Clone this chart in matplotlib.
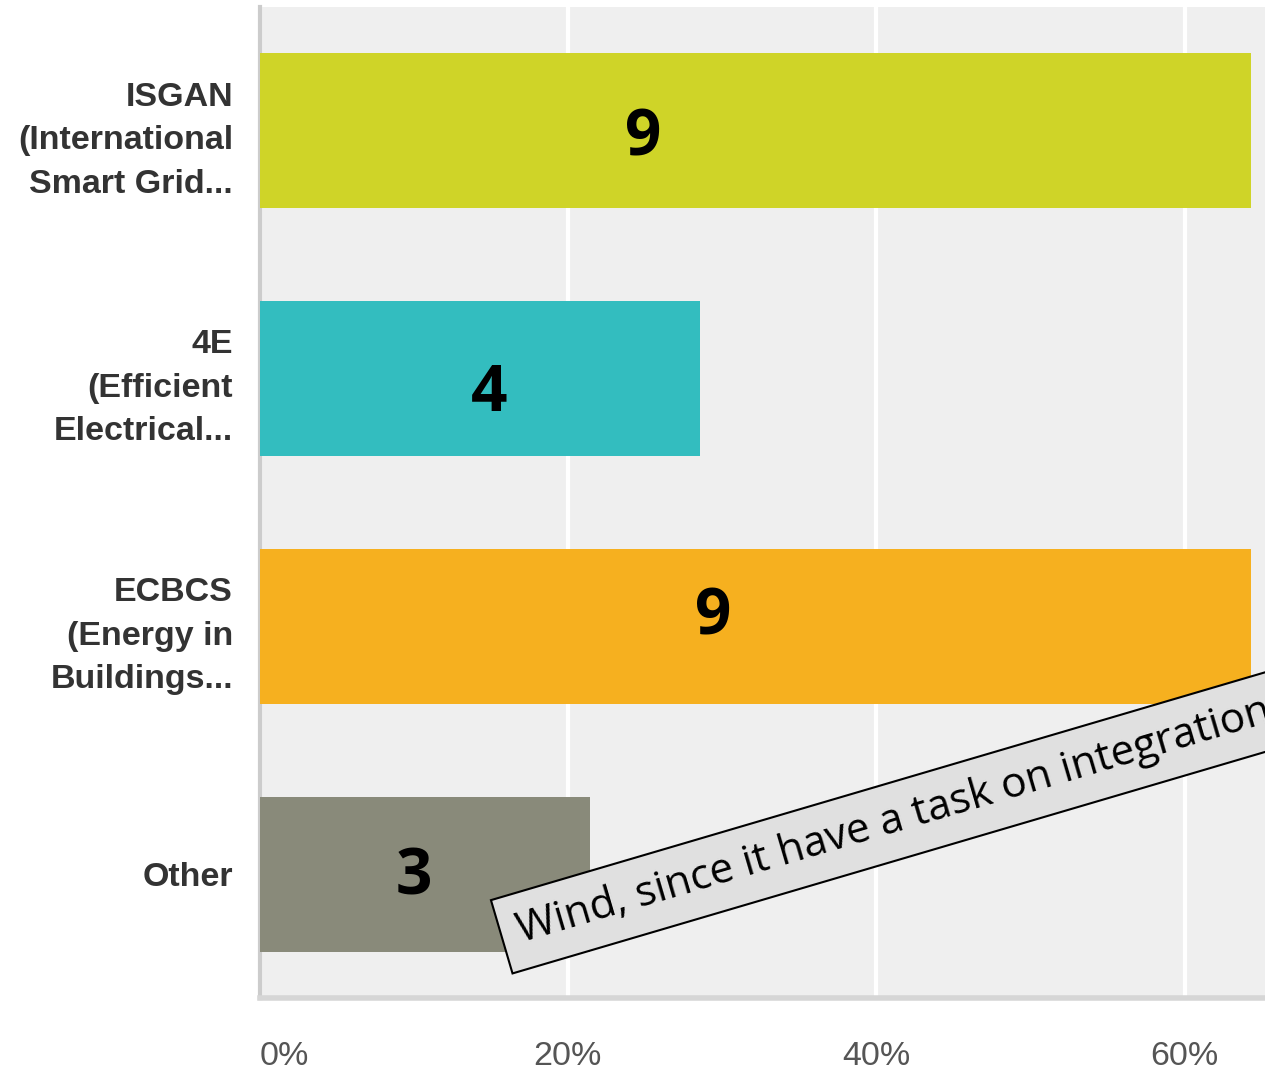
import matplotlib
matplotlib.use('Agg')
import matplotlib.pyplot as plt
import numpy as np

# Survey responses (n = 14)
categories = ['ISGAN\n(International\nSmart Grid...',
              '4E\n(Efficient\nElectrical...',
              'ECBCS\n(Energy in\nBuildings...',
              'Other']
counts = [9, 4, 9, 3]
total = 14
colors = ['#cfd428', '#33bdbf', '#f6b01f', '#898a7a']
xticks = [0, 20, 40, 60]
xtick_labels = ['0%', '20%', '40%', '60%']
# where the hand-placed count labels sit (percent units / bar offsets)
label_x = [24.9, 14.9, 29.4, 10.0]
label_dy = [0.032, 0.065, -0.032, 0.016]
note = 'Wind, since it have a task on integration'

pct = np.array(counts) / total * 100
ypos = np.arange(len(categories))

fig = plt.figure(figsize=(12.65, 10.74), dpi=100)
ax = fig.add_axes([259.5 / 1265, 76 / 1074, 1 - 259.5 / 1265, (1074 - 7 - 76) / 1074])
ax.set_facecolor('#efefef')

ax.barh(ypos, pct, height=0.625, color=colors, zorder=3)
ax.set_xlim(0, (1265 - 259.5) / 15.42)
ax.set_ylim(len(categories) - 0.5, -0.5)

ax.set_xticks(xticks)
ax.set_xticklabels(xtick_labels, fontsize=24.5, color='#555555', family='Liberation Sans')
ax.get_xticklabels()[0].set_horizontalalignment('left')
ax.tick_params(axis='x', length=0, pad=31)
ax.set_yticks(ypos)
ax.set_yticklabels(categories, fontsize=24.5, fontweight='bold', color='#333333',
                   family='Liberation Sans', linespacing=1.52)
ax.tick_params(axis='y', length=0, pad=19)

ax.grid(axis='x', color='white', linewidth=3, zorder=1)
for side in ['top', 'right']:
    ax.spines[side].set_visible(False)
ax.spines['left'].set_color('#cccccc')
ax.spines['left'].set_linewidth(3)
ax.spines['bottom'].set_color('#d6d6d6')
ax.spines['bottom'].set_linewidth(4)

for i, c in enumerate(counts):
    ax.text(label_x[i], ypos[i] + label_dy[i], str(c), fontsize=46, fontweight='bold',
            family='Open Sans', ha='center', va='center', color='black', zorder=5)

# rotated comment box overlaid on the chart (runs off the right edge)
fig.text(518 / 1265, (1074 - 932) / 1074, note + '      ', fontsize=30.5, family='Open Sans',
         rotation=16.4, rotation_mode='anchor', ha='left', va='center', color='black',
         bbox=dict(boxstyle='square,pad=0.4', facecolor='#e0e0e0', edgecolor='black',
                   linewidth=1.5), zorder=10)

fig.savefig('out.png', dpi=100)
